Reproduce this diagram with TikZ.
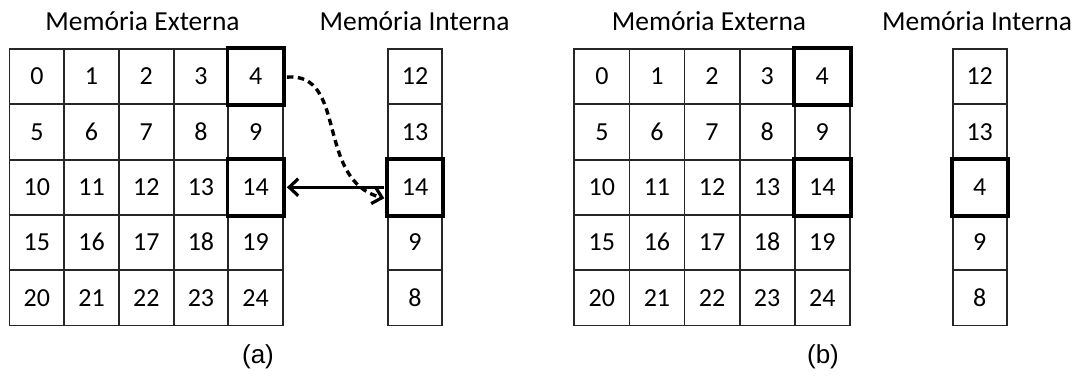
\documentclass[tikz,border=0pt]{standalone}
\usepackage{fontspec}
\setmainfont{Carlito}
\newfontfamily\labfont{Liberation Sans}
\usetikzlibrary{arrows.meta}
\tikzset{
  cell/.style={draw=black!85, line width=1.8pt, inner sep=0pt, text height=16.5pt, text depth=0pt, font=\fontsize{26}{26}\selectfont},
  hot/.style={draw=black, line width=3.8pt, inner sep=0pt},
  title/.style={anchor=base, font=\fontsize{27.5}{28}\selectfont},
  sublabel/.style={anchor=base, font=\labfont\fontsize{26}{26}\selectfont},
  link/.style={line width=3.4pt, -{Straight Barb[length=9pt,width=17pt,line width=3.2pt]}},
}
\begin{document}
\begin{tikzpicture}[x=1pt,y=-1pt]
\useasboundingbox (0,0) rectangle (1077,376);
% grids
\foreach \r in {0,...,4}{
  \foreach \c in {0,...,4}{
    \pgfmathtruncatemacro{\n}{5*\r+\c}
    \node[cell, minimum width=54.7pt, minimum height=55.3pt] (A-\r-\c) at ({9.5+54.7*(\c+0.5)},{49+55.3*(\r+0.5)}) {\n};
    \node[cell, minimum width=55.1pt, minimum height=55.3pt] (B-\r-\c) at ({574.3+55.1*(\c+0.5)},{49+55.3*(\r+0.5)}) {\n};
  }
}
\foreach \v [count=\i from 0] in {12,13,14,9,8}{
  \node[cell, minimum width=54.6pt, minimum height=55.3pt] (AI-\i) at ({387.7+27.3},{49+55.3*(\i+0.5)}) {\v};
}
\foreach \v [count=\i from 0] in {12,13,4,9,8}{
  \node[cell, minimum width=54pt, minimum height=55.3pt] (BI-\i) at ({952.7+27},{49+55.3*(\i+0.5)}) {\v};
}
% highlighted cells
\draw[hot] (A-0-4.north west) rectangle (A-0-4.south east);
\draw[hot] (A-2-4.north west) rectangle (A-2-4.south east);
\draw[hot] (AI-2.north west) rectangle (AI-2.south east);
\draw[hot] (B-0-4.north west) rectangle (B-0-4.south east);
\draw[hot] (B-2-4.north west) rectangle (B-2-4.south east);
\draw[hot] (BI-2.north west) rectangle (BI-2.south east);
% titles
\node[title] (tAE) at (142.5,30) {Memória Externa};
\node[title] (tAI) at (414.5,30) {Memória Interna};
\node[title] (tBE) at (709,30) {Memória Externa};
\node[title] (tBI) at (977,30) {Memória Interna};
\node[sublabel] (la) at (258,363) {(a)};
\node[sublabel] (lb) at (823,363) {(b)};
% arrows
\coordinate (dstart) at ([xshift=3pt,yshift=-0.5pt]A-0-4.east);
\coordinate (dend) at ([xshift=-2.5pt,yshift=-11pt]AI-2.west);
\draw[link, dash pattern=on 6.5pt off 4.5pt] (dstart) .. controls (348,72) and (315,180) .. (dend);
\draw[link] ([xshift=-2.5pt]AI-2.west) -- ([xshift=3pt]A-2-4.east);
\end{tikzpicture}
\end{document}
